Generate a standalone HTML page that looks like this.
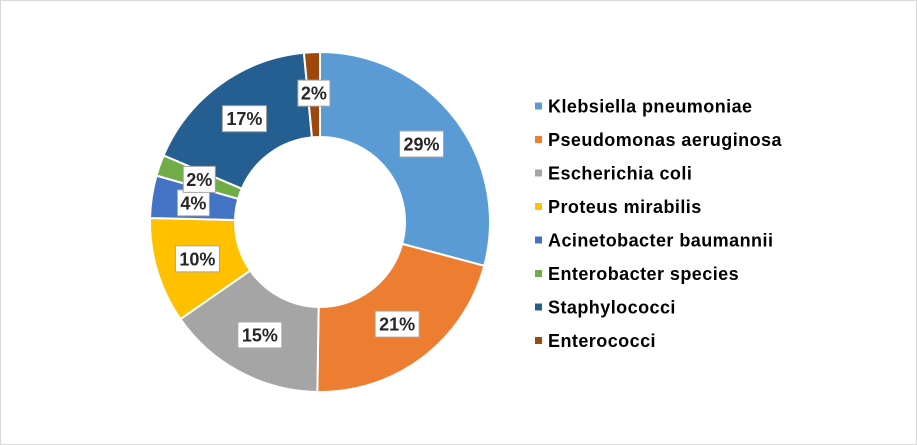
<!DOCTYPE html>
<html><head><meta charset="utf-8"><style>
body{margin:0;background:#fff;}
svg{display:block;font-family:"Liberation Sans",sans-serif;}
</style></head><body>
<svg id="c" width="917" height="445">
<rect x="0.5" y="0.5" width="916" height="444" fill="#fff" stroke="#d9d9d9"/>
<g id="slices"></g><g id="labels"></g><g id="legend"></g>
</svg>
<script>
const categories=["Klebsiella pneumoniae","Pseudomonas aeruginosa","Escherichia coli","Proteus mirabilis","Acinetobacter baumannii","Enterobacter species","Staphylococci","Enterococci"];
const values=[29,21,15,10,4,2,17,1.5];
const labels=["29%","21%","15%","10%","4%","2%","17%","2%"];
const colors=["#5b9bd5","#ed7d31","#a5a5a5","#ffc000","#4472c4","#70ad47","#255e91","#9e480e"];
const NS="http://www.w3.org/2000/svg";
const cx=320,cy=222,R=170,r=85;
const total=values.reduce((a,b)=>a+b,0);
function pt(a,rad){return [cx+rad*Math.sin(a),cy-rad*Math.cos(a)];}
const gS=document.getElementById('slices'),gL=document.getElementById('labels'),gG=document.getElementById('legend');
let acc=0;
const lblR=[128,128,128,128,128,128,128,129];
values.forEach((v,i)=>{
  const a0=acc/total*2*Math.PI; acc+=v; const a1=acc/total*2*Math.PI;
  const large=(a1-a0)>Math.PI?1:0;
  const [x0,y0]=pt(a0,R),[x1,y1]=pt(a1,R),[x2,y2]=pt(a1,r),[x3,y3]=pt(a0,r);
  const p=document.createElementNS(NS,'path');
  p.setAttribute('d',`M${x0},${y0}A${R},${R} 0 ${large} 1 ${x1},${y1}L${x2},${y2}A${r},${r} 0 ${large} 0 ${x3},${y3}Z`);
  p.setAttribute('fill',colors[i]);p.setAttribute('stroke','#fff');p.setAttribute('stroke-width','2');
  
  
  gS.appendChild(p);
  const am=(a0+a1)/2;const [lx,ly]=pt(am,lblR[i]);
  const w=labels[i].length*12+8;
  const g=document.createElementNS(NS,'g');
  
  
  const rc=document.createElementNS(NS,'rect');
  rc.setAttribute('x',lx-w/2);rc.setAttribute('y',ly-13);rc.setAttribute('width',w);rc.setAttribute('height',26);
  rc.setAttribute('fill','#fff');rc.setAttribute('stroke','#a5a5a5');
  const t=document.createElementNS(NS,'text');
  t.setAttribute('x',lx);t.setAttribute('y',ly+6.5);t.setAttribute('text-anchor','middle');
  t.setAttribute('font-size','18');t.setAttribute('font-weight','bold');t.setAttribute('fill','#262626');
  t.textContent=labels[i];
  g.appendChild(rc);g.appendChild(t);gL.appendChild(g);
});
categories.forEach((c,i)=>{
  const y=106+i*33.5;
  const g=document.createElementNS(NS,'g');
  
  
  const m=document.createElementNS(NS,'rect');
  m.setAttribute('x',535);m.setAttribute('y',y-3.5);m.setAttribute('width',7);m.setAttribute('height',7);m.setAttribute('fill',colors[i]);
  const t=document.createElementNS(NS,'text');
  t.setAttribute('x',548);t.setAttribute('y',y+6.5);t.setAttribute('font-size','18');t.setAttribute('font-weight','bold');t.setAttribute('fill','#000');
  t.setAttribute('letter-spacing','0.45');
  t.textContent=c;
  g.appendChild(m);g.appendChild(t);gG.appendChild(g);
});
</script>
</body></html>
